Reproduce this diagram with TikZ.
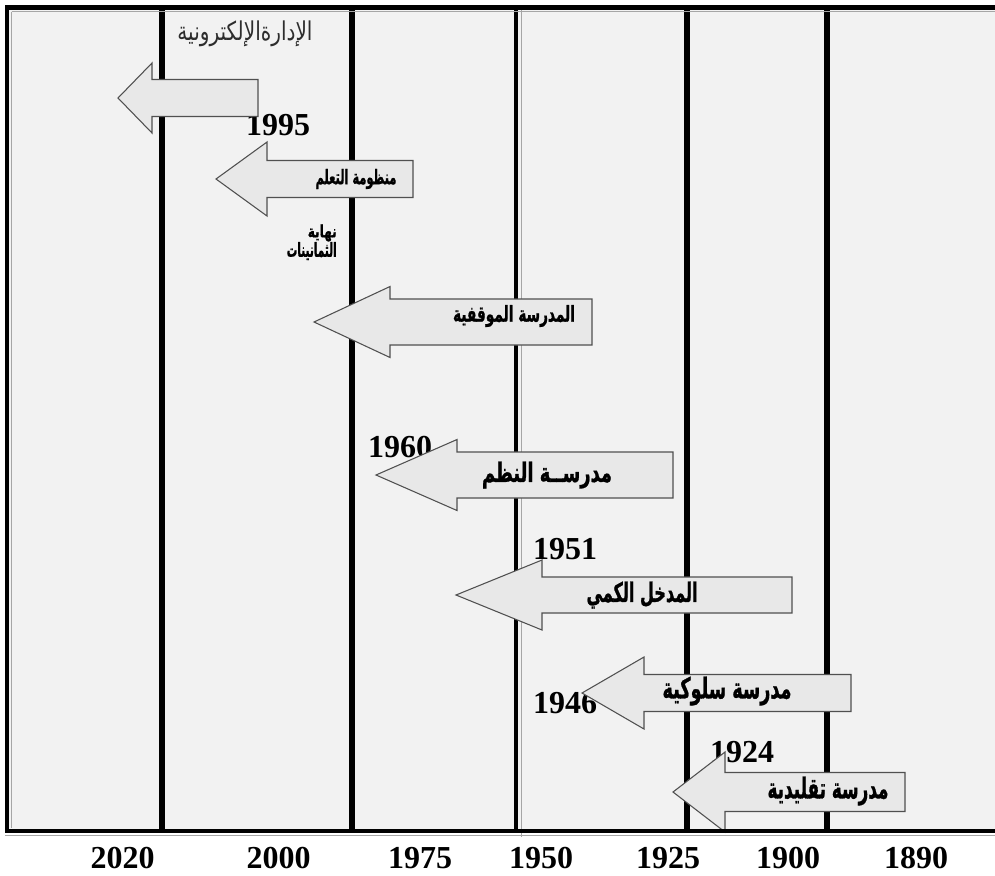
\documentclass[tikz,border=0pt]{standalone}
\usepackage{fontspec}
\usepackage{graphicx}
\setmainfont{Liberation Serif}
\newfontfamily\arabicfont[Script=Arabic]{DejaVu Sans}
\newfontfamily\arabicheavy[Script=Arabic, BoldFeatures={FakeBold=1.2}]{DejaVu Sans}
\TeXXeTstate=1
\newdimen\pxu \pxu=0.75pt
% width, total height (in picture pixels), text
\newcommand{\arb}[3]{\resizebox*{#1\pxu}{#2\pxu}{\arabicheavy\bfseries #3}}
\newcommand{\arn}[3]{\resizebox*{#1\pxu}{#2\pxu}{\arabicfont #3}}
\definecolor{bgc}{RGB}{242,242,242}
\definecolor{arrfill}{RGB}{232,232,232}
\definecolor{arrline}{RGB}{80,80,80}
\definecolor{titlec}{RGB}{45,45,45}
\tikzset{
  vline/.style={black, line width=3.9pt},
  frameline/.style={black, line width=3.4pt},
  thinline/.style={gray!70, line width=0.6pt},
  blockarrow/.style={fill=arrfill, draw=arrline, line width=0.8pt, line join=miter},
  year/.style={inner sep=0pt, font=\bfseries\fontsize{24}{24}\selectfont},
  arlabel/.style={inner sep=0pt, text=black},
}
\newcommand{\larrow}[7]{% name, tipx, tipy, headback, headhalf, bodyhalf, rightx
  \draw[blockarrow] (#2,#3) -- (#4,#3-#5) -- (#4,#3-#6) -- (#7,#3-#6) -- (#7,#3+#6) -- (#4,#3+#6) -- (#4,#3+#5) -- cycle;
  \coordinate (#1) at ({(#4+#7)/2},#3);}
\begin{document}
\begin{tikzpicture}[x=0.75pt, y=-0.75pt]
\useasboundingbox (0,0) rectangle (995,875);
\clip (0,0) rectangle (995,875);
\fill[white] (0,0) rectangle (995,875);
\fill[bgc] (7,7) rectangle (1010,831);
% vertical era lines
\foreach \x in {162,352,687,827} \draw[vline] (\x,7) -- (\x,831);
\draw[black, line width=3.4pt] (516,7) -- (516,831);
\draw[thinline] (521,7) -- (521,837);
% year labels (under the arrows)
\node[year] (y1995) at (278,125) {1995};
\node[year] (y1960) at (400,447) {1960};
\node[year] (y1951) at (565,549) {1951};
\node[year] (y1946) at (565,703) {1946};
\node[year] (y1924) at (742,752) {1924};
% top title and note
\node[arlabel, text=titlec] (title) at (245,34) {\arn{135}{26}{\beginR الإدارةالإلكترونية\endR}};
\node[arlabel, anchor=east] (note1) at (337,233) {\arb{29}{17}{\beginR نهاية\endR}};
\node[arlabel, anchor=east] (note2) at (337,251) {\arb{50}{18}{\beginR الثمانينات\endR}};
% arrows
\larrow{a1}{118}{98}{152}{35}{18.5}{258}
\larrow{a2}{216}{179}{267}{37}{18.5}{413}
\larrow{a3}{314}{322}{390}{35.5}{23}{592}
\larrow{a4}{376}{475}{457}{35.5}{23}{673}
\larrow{a5}{456}{595}{542}{35}{18}{792}
\larrow{a6}{582}{693}{644}{36}{18.5}{851}
\larrow{a7}{673}{792}{725}{40}{19.5}{905}
% arrow labels
\node[arlabel] (t2) at (356,179) {\arb{81}{20}{\beginR منظومة التعلم\endR}};
\node[arlabel] (t3) at (514,316) {\arb{122}{22}{\beginR المدرسة الموقفية\endR}};
\node[arlabel] (t4) at (547,475) {\arb{130}{27}{\beginR مدرســة النظم\endR}};
\node[arlabel] (t5) at (642,595) {\arb{111}{27}{\beginR المدخل الكمي\endR}};
\node[arlabel] (t6) at (727,691) {\arb{129}{29}{\beginR مدرسة سلوكية\endR}};
\node[arlabel] (t7) at (828,791) {\arb{121}{29}{\beginR مدرسة تقليدية\endR}};
% frame
\draw[frameline] (1010,7.5) -- (7,7.5) -- (7,831) -- (1010,831);
\draw[thinline] (11.5,11.5) -- (1010,11.5);
\draw[thinline] (11.5,11.5) -- (11.5,828);
\draw[thinline] (5,835.5) -- (1010,835.5);
% bottom axis years
\node[year] (b2020) at (122.5,858) {2020};
\node[year] (b2000) at (278.5,858) {2000};
\node[year] (b1975) at (420,858) {1975};
\node[year] (b1950) at (541,858) {1950};
\node[year] (b1925) at (668,858) {1925};
\node[year] (b1900) at (788,858) {1900};
\node[year] (b1890) at (916,858) {1890};
\end{tikzpicture}
\end{document}
